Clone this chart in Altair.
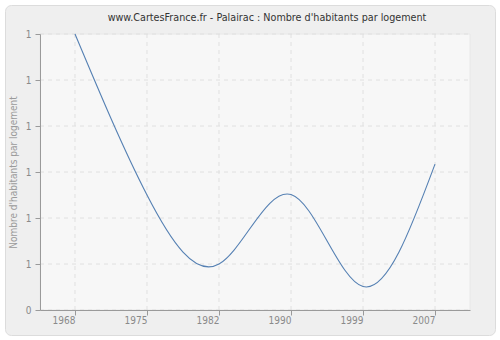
import altair as alt
import pandas as pd

years = ["1968", "1975", "1982", "1990", "1999", "2007"]
values = [1.0, 0.65, 0.50, 0.651, 0.451, 0.717]
y_ticks = [0.4, 0.5, 0.6, 0.7, 0.8, 0.9, 1.0]

df = pd.DataFrame({"annee": years, "valeur": values})
df_x = pd.DataFrame({"annee": years})
df_y = pd.DataFrame({"valeur": y_ticks})

W, H = 430, 276
PAD_L, PAD_T = 40, 34
FONT = "DejaVu Sans Condensed, DejaVu Sans"

xscale = alt.Scale(type="point", padding=0.486)
yscale = alt.Scale(domain=[0.4, 1.0], nice=False, zero=False)

frame = alt.Chart(pd.DataFrame({"a": [0]})).mark_rect(
    fill="#efefef", stroke="#dcdcdc", strokeWidth=1, cornerRadius=6
).encode(
    x=alt.value(-PAD_L + 5.5), x2=alt.value(W + 25.5),
    y=alt.value(-PAD_T + 5.5), y2=alt.value(H + 25.5)
)

plotbg = alt.Chart(pd.DataFrame({"a": [0]})).mark_rect(
    fill="#f7f7f7", stroke="#e8e8e8", strokeWidth=1
).encode(
    x=alt.value(0), x2=alt.value(W), y=alt.value(0), y2=alt.value(H)
)

gridx = alt.Chart(df_x).mark_rule(
    color="#e0e0e0", strokeDash=[4, 4], strokeWidth=1
).encode(
    x=alt.X("annee:N", sort=years, scale=xscale),
    y=alt.value(0), y2=alt.value(H)
)

gridy = alt.Chart(df_y).mark_rule(
    color="#e0e0e0", strokeDash=[4, 4], strokeWidth=1
).encode(
    y=alt.Y("valeur:Q", scale=yscale),
    x=alt.value(0), x2=alt.value(W)
)

line = alt.Chart(df).mark_line(
    interpolate="natural", color="#5580b3", strokeWidth=1.1
).encode(
    x=alt.X("annee:N", sort=years, scale=xscale,
            axis=alt.Axis(title=None, labelAngle=0, grid=False, tickSize=5,
                          labelPadding=5, zindex=1)),
    y=alt.Y("valeur:Q", scale=yscale,
            axis=alt.Axis(title="Nombre d'habitants par logement", values=y_ticks,
                          labelExpr="datum.value < 0.45 ? '0' : '1'",
                          grid=False, tickSize=5, labelPadding=4, titlePadding=7,
                          zindex=1))
)

chart = alt.layer(frame, plotbg, gridx, gridy, line).properties(
    width=W, height=H,
    autosize="none",
    padding={"left": PAD_L, "top": PAD_T, "right": 500 - PAD_L - W, "bottom": 340 - PAD_T - H},
    title=alt.TitleParams(
        "www.CartesFrance.fr - Palairac : Nombre d'habitants par logement",
        anchor="middle", frame="group", dx=12, dy=28, offset=9, fontSize=10.7,
        font=FONT, fontWeight="normal", color="#333333", zindex=1
    ),
).configure(background="white").configure_view(
    stroke="transparent"
).configure_axis(
    domainColor="#9a9a9a", tickColor="#9a9a9a", labelColor="#8a8a8a",
    labelFont=FONT, labelFontSize=10,
    titleFont=FONT, titleFontSize=10, titleColor="#9a9a9a",
    titleFontWeight="normal"
)

chart.save("out.html", embed_options={"renderer": "svg", "actions": False})
